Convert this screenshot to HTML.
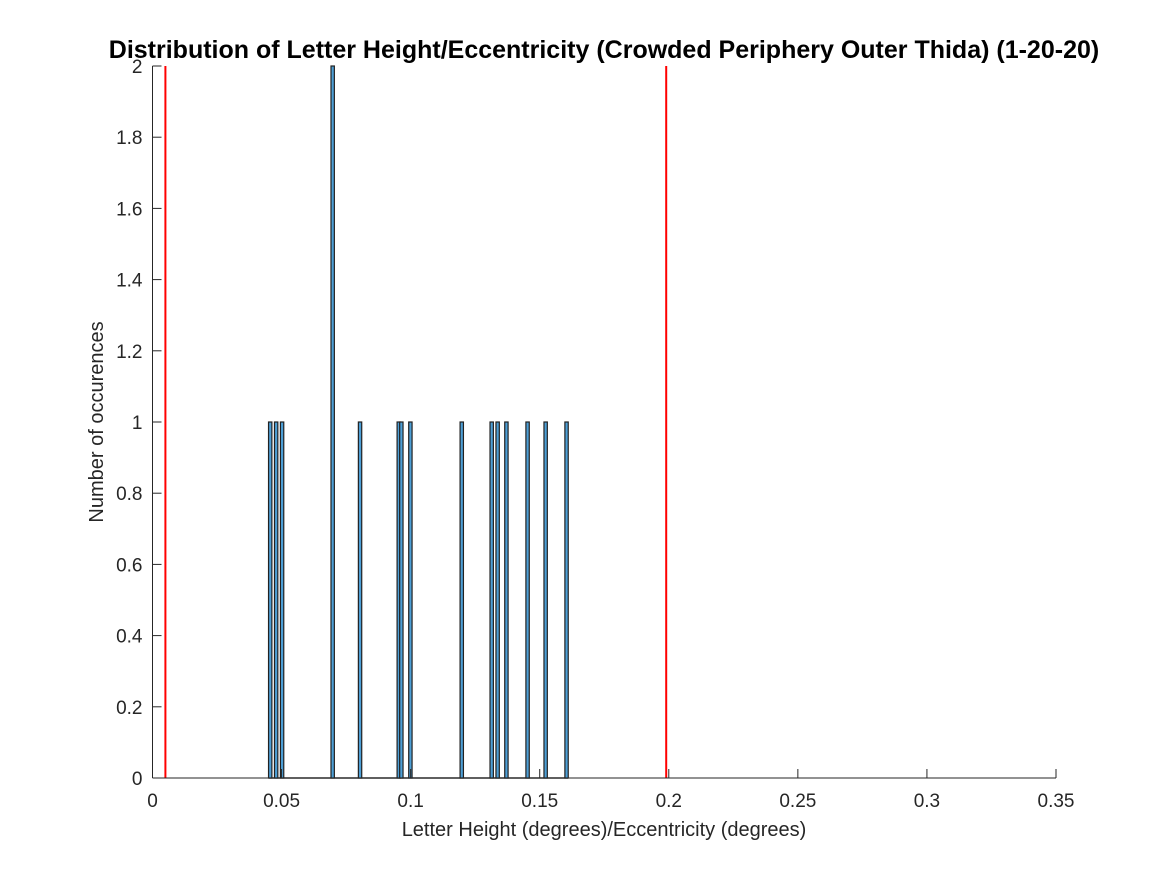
<!DOCTYPE html>
<html><head><meta charset="utf-8"><style>
body{margin:0;background:#fff;}
svg{display:block;font-family:"Liberation Sans",Arial,sans-serif;}
</style></head><body>
<svg id="chart" width="1167" height="875">
<rect width="1167" height="875" fill="#fff"/>
<text x="604" y="58" text-anchor="middle" font-size="25" font-weight="bold">Distribution of Letter Height/Eccentricity (Crowded Periphery Outer Thida) (1-20-20)</text>
<g id="bars"></g>
<g id="refs"></g>
<g id="axes"></g>
<text x="604" y="836" text-anchor="middle" font-size="20" fill="#262626">Letter Height (degrees)/Eccentricity (degrees)</text>
<text transform="translate(103,422) rotate(-90)" text-anchor="middle" font-size="20" fill="#262626">Number of occurences</text>
</svg>
<script>
const binCenters=[0.0456,0.0479,0.0502,0.0698,0.0804,0.0954,0.0964,0.0999,0.1198,0.1314,0.1337,0.1371,0.1453,0.1523,0.1604];
const counts=[1,1,1,2,1,1,1,1,1,1,1,1,1,1,1];
const refLines=[0.005,0.199];
const xTicks=[0,0.05,0.1,0.15,0.2,0.25,0.3,0.35];
const xTickLabels=["0","0.05","0.1","0.15","0.2","0.25","0.3","0.35"];
const yTicks=[0,0.2,0.4,0.6,0.8,1,1.2,1.4,1.6,1.8,2];
const yTickLabels=["0","0.2","0.4","0.6","0.8","1","1.2","1.4","1.6","1.8","2"];
const binWidth=0.0013;
const NS="http://www.w3.org/2000/svg";
const X0=152.5,X1=1056,Y0=778,Y1=66;
const xs=v=>X0+(v/0.35)*(X1-X0);
const ys=v=>Y0-(v/2)*(Y0-Y1);
function mk(t,a,p){const e=document.createElementNS(NS,t);for(const k in a)e.setAttribute(k,a[k]);p.appendChild(e);return e;}
const bars=document.getElementById('bars');
const bl=mk('line',{x1:xs(binCenters[0]-binWidth/2),x2:xs(binCenters[binCenters.length-1]+binWidth/2),y1:Y0,y2:Y0,stroke:'#333','stroke-width':1.5},bars);


binCenters.forEach((c,i)=>{
  const x=xs(c-binWidth/2),w=xs(c+binWidth/2)-x;
  const r=mk('rect',{x:x,y:ys(counts[i]),width:w,height:Y0-ys(counts[i]),fill:'#4d9fd6',stroke:'#222','stroke-width':1.2},bars);
  
  
});
const refs=document.getElementById('refs');
refLines.forEach(v=>{
  const l=mk('line',{x1:xs(v),x2:xs(v),y1:Y1,y2:Y0,stroke:'#ff0000','stroke-width':2},refs);
  
  
});
const ax=document.getElementById('axes');
const xa=mk('line',{x1:X0,x2:X1,y1:Y0,y2:Y0,stroke:'#262626','stroke-width':1},ax);


const ya=mk('line',{x1:X0,x2:X0,y1:Y1,y2:Y0,stroke:'#262626','stroke-width':1},ax);


xTicks.forEach((v,i)=>{
  mk('line',{x1:xs(v),x2:xs(v),y1:Y0,y2:Y0-9,stroke:'#262626'},ax);
  const t=mk('text',{x:xs(v),y:Y0+29,'text-anchor':'middle','font-size':19,fill:'#262626'},ax);
  t.textContent=xTickLabels[i];
  
  
});
yTicks.forEach((v,i)=>{
  mk('line',{x1:X0,x2:X0+9,y1:ys(v),y2:ys(v),stroke:'#262626'},ax);
  const t=mk('text',{x:X0-10,y:ys(v)+7,'text-anchor':'end','font-size':19,fill:'#262626'},ax);
  t.textContent=yTickLabels[i];
  
  
});
</script>
</body></html>
